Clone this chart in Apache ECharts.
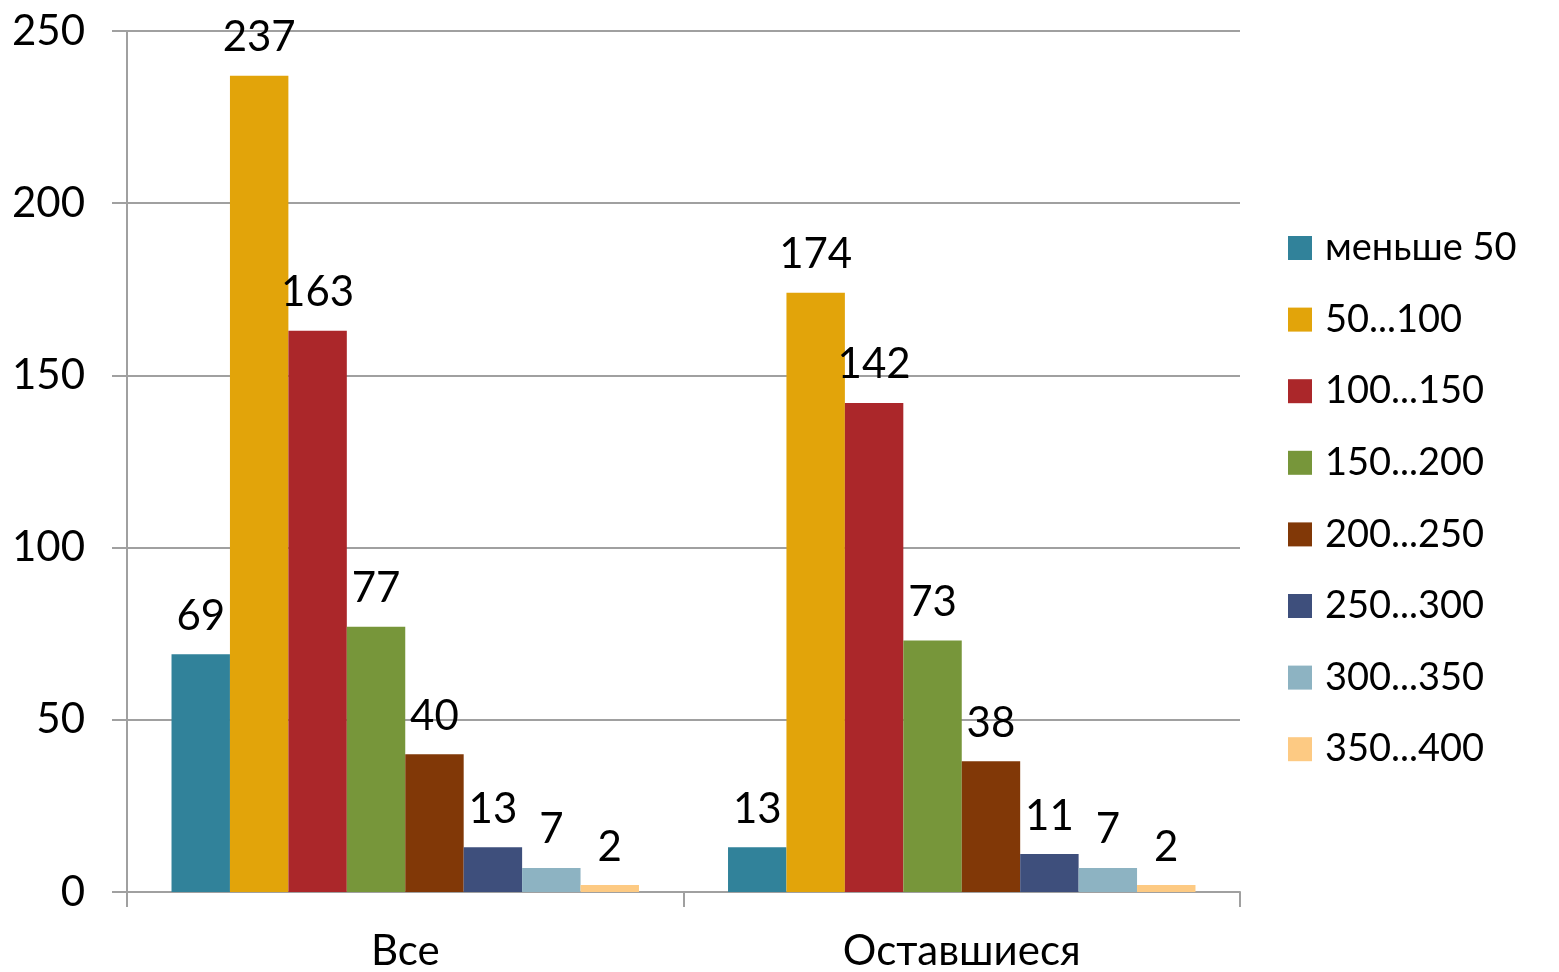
<!DOCTYPE html>
<html>
<head>
<meta charset="utf-8">
<script src="https://cdn.jsdelivr.net/npm/echarts@6/dist/echarts.min.js"></script>
<style>
  html, body { margin: 0; padding: 0; background: #fff; }
  #chart { width: 1559px; height: 972px; }
</style>
</head>
<body>
<div id="chart"></div>
<script>
// данные
const categories = ['Все', 'Оставшиеся']
const seriesNames = ['меньше 50', '50...100', '100...150', '150...200', '200...250', '250...300', '300...350', '350...400']
const seriesValues = [
  [69, 13],
  [237, 174],
  [163, 142],
  [77, 73],
  [40, 38],
  [13, 11],
  [7, 7],
  [2, 2]
]
const colors = ['#31829a', '#e2a40a', '#ab272a', '#77963a', '#813807', '#3e4f7c', '#8db3c2', '#fdca83']
const yTicks = [0, 50, 100, 150, 200, 250]

let chart = echarts.init(document.getElementById('chart'))
let font = 'Lato, "Open Sans", sans-serif'

let option = {
  animation: false,
  textStyle: { fontFamily: font },
  grid: {
    left: 127,
    right: 319,
    top: 31,
    bottom: 75
  },
  legend: {
    orient: 'vertical',
    left: 1283,
    top: 224,
    icon: 'rect',
    itemWidth: 24,
    itemHeight: 24,
    itemGap: 33.6,
    data: seriesNames,
    textStyle: {
      fontFamily: font,
      fontSize: 38,
      color: '#000',
      lineHeight: 36,
      padding: [0, 0, 0, 8]
    }
  },
  xAxis: {
    type: 'category',
    data: categories,
    axisLine: { lineStyle: { color: '#a0a0a0', width: 2 } },
    axisTick: { show: true, length: 15, lineStyle: { color: '#a0a0a0', width: 2 } },
    axisLabel: { fontSize: 42, color: '#000', margin: 38, fontFamily: font }
  },
  yAxis: {
    type: 'value',
    min: 0,
    max: yTicks[yTicks.length - 1],
    interval: 50,
    axisLine: { show: true, lineStyle: { color: '#a0a0a0', width: 2 } },
    axisTick: { show: true, length: 15, lineStyle: { color: '#a0a0a0', width: 2 } },
    splitLine: { lineStyle: { color: '#a0a0a0', width: 2 } },
    axisLabel: { fontSize: 42, color: '#000', margin: 42, fontFamily: font }
  },
  series: seriesNames.map((name, i) => ({
    name: name,
    type: 'bar',
    data: seriesValues[i],
    barGap: '0%',
    barCategoryGap: '16%',
    itemStyle: { color: colors[i] },
    label: {
      show: true,
      position: 'top',
      distance: 17,
      fontSize: 42,
      color: '#000',
      fontFamily: font
    }
  }))
}

chart.setOption(option)
</script>
</body>
</html>
